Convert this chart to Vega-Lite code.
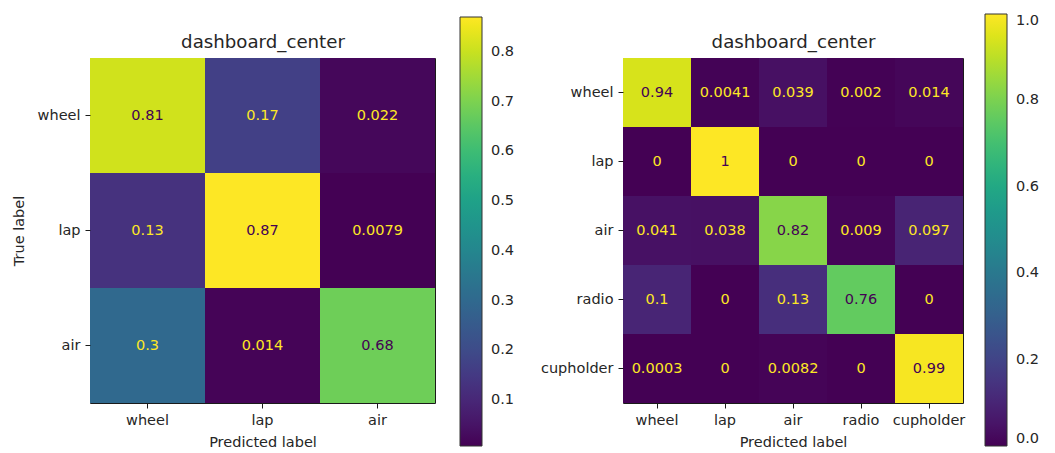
{
  "$schema": "https://vega.github.io/schema/vega-lite/v6.json",
  "background": "white",
  "padding": {"left": 10, "top": 13, "right": 0, "bottom": 0},
  "config": {
    "font": "DejaVu Sans",
    "view": {"stroke": "#1a1a1a", "strokeWidth": 1},
    "axis": {
      "grid": false, "domain": false, "tickColor": "#1a1a1a", "tickSize": 5, "tickWidth": 1,
      "labelFont": "DejaVu Sans", "labelFontSize": 14.5, "labelColor": "#262626", "labelPadding": 5,
      "titleFont": "DejaVu Sans", "titleFontSize": 14.5, "titleFontWeight": "normal", "titleColor": "#262626"
    },
    "legend": {"labelFont": "DejaVu Sans", "labelFontSize": 14.5, "labelColor": "#262626"},
    "concat": {"spacing": 23}
  },
  "resolve": {"scale": {"color": "independent"}, "legend": {"color": "independent"}},
  "hconcat": [
    {
      "width": 345, "height": 345,
      "data": {"values": [
        {"t": "wheel", "p": "wheel", "v": 0.81}, {"t": "wheel", "p": "lap", "v": 0.17}, {"t": "wheel", "p": "air", "v": 0.022},
        {"t": "lap", "p": "wheel", "v": 0.13}, {"t": "lap", "p": "lap", "v": 0.87}, {"t": "lap", "p": "air", "v": 0.0079},
        {"t": "air", "p": "wheel", "v": 0.3}, {"t": "air", "p": "lap", "v": 0.014}, {"t": "air", "p": "air", "v": 0.68}
      ]},
      "resolve": {"axis": {"x": "independent"}},
      "layer": [
        {"mark": {"type": "rect"},
         "encoding": {
          "x": {"field": "p", "type": "nominal", "sort": ["wheel", "lap", "air"], "scale": {"paddingInner": 0, "paddingOuter": 0},
                "axis": {"title": "Predicted label", "labelAngle": 0, "titlePadding": 9}},
          "y": {"field": "t", "type": "nominal", "sort": ["wheel", "lap", "air"], "scale": {"paddingInner": 0, "paddingOuter": 0},
                "axis": {"title": "True label", "titlePadding": 11}},
          "color": {"field": "v", "type": "quantitative",
            "scale": {"scheme": "viridis", "domain": [0.0079, 0.87]},
            "legend": {"orient": "none", "legendX": 370, "legendY": -41, "title": null, "direction": "vertical",
                       "gradientLength": 429, "gradientThickness": 22, "gradientStrokeColor": "#333", "gradientStrokeWidth": 1,
                       "values": [0.1, 0.2, 0.3, 0.4, 0.5, 0.6, 0.7, 0.8], "labelOffset": 9, "format": ".1f", "labelBaseline": "middle"}}}},
        {"mark": {"type": "text", "fontSize": 14.5, "font": "DejaVu Sans"},
         "encoding": {
          "x": {"field": "p", "type": "nominal", "sort": ["wheel", "lap", "air"],
                "axis": {"orient": "top", "labels": false, "ticks": false, "domain": false, "title": "dashboard_center",
                         "titleFontSize": 18.2, "titlePadding": 7}},
          "y": {"field": "t", "type": "nominal", "sort": ["wheel", "lap", "air"]},
          "text": {"field": "v", "type": "quantitative", "format": ".2~g"},
          "color": {"condition": {"test": "datum.v > 0.44", "value": "#440154"}, "value": "#fde725"}}}
      ]
    },
    {
      "width": 340, "height": 345,
      "data": {"values": [
        {"t": "wheel", "p": "wheel", "v": 0.94}, {"t": "wheel", "p": "lap", "v": 0.0041}, {"t": "wheel", "p": "air", "v": 0.039}, {"t": "wheel", "p": "radio", "v": 0.002}, {"t": "wheel", "p": "cupholder", "v": 0.014},
        {"t": "lap", "p": "wheel", "v": 0}, {"t": "lap", "p": "lap", "v": 1}, {"t": "lap", "p": "air", "v": 0}, {"t": "lap", "p": "radio", "v": 0}, {"t": "lap", "p": "cupholder", "v": 0},
        {"t": "air", "p": "wheel", "v": 0.041}, {"t": "air", "p": "lap", "v": 0.038}, {"t": "air", "p": "air", "v": 0.82}, {"t": "air", "p": "radio", "v": 0.009}, {"t": "air", "p": "cupholder", "v": 0.097},
        {"t": "radio", "p": "wheel", "v": 0.1}, {"t": "radio", "p": "lap", "v": 0}, {"t": "radio", "p": "air", "v": 0.13}, {"t": "radio", "p": "radio", "v": 0.76}, {"t": "radio", "p": "cupholder", "v": 0},
        {"t": "cupholder", "p": "wheel", "v": 0.0003}, {"t": "cupholder", "p": "lap", "v": 0}, {"t": "cupholder", "p": "air", "v": 0.0082}, {"t": "cupholder", "p": "radio", "v": 0}, {"t": "cupholder", "p": "cupholder", "v": 0.99}
      ]},
      "resolve": {"axis": {"x": "independent"}},
      "layer": [
        {"mark": {"type": "rect"},
         "encoding": {
          "x": {"field": "p", "type": "nominal", "sort": ["wheel", "lap", "air", "radio", "cupholder"], "scale": {"paddingInner": 0, "paddingOuter": 0},
                "axis": {"title": "Predicted label", "labelAngle": 0, "titlePadding": 9}},
          "y": {"field": "t", "type": "nominal", "sort": ["wheel", "lap", "air", "radio", "cupholder"], "scale": {"paddingInner": 0, "paddingOuter": 0},
                "axis": {"title": null}},
          "color": {"field": "v", "type": "quantitative",
            "scale": {"scheme": "viridis", "domain": [0, 1]},
            "legend": {"orient": "none", "legendX": 362, "legendY": -44, "title": null, "direction": "vertical",
                       "gradientLength": 432, "gradientThickness": 22, "gradientStrokeColor": "#333", "gradientStrokeWidth": 1,
                       "values": [0, 0.2, 0.4, 0.6, 0.8, 1.0], "labelOffset": 9, "format": ".1f", "labelBaseline": "middle"}}}},
        {"mark": {"type": "text", "fontSize": 14.5, "font": "DejaVu Sans"},
         "encoding": {
          "x": {"field": "p", "type": "nominal", "sort": ["wheel", "lap", "air", "radio", "cupholder"],
                "axis": {"orient": "top", "labels": false, "ticks": false, "domain": false, "title": "dashboard_center",
                         "titleFontSize": 18.2, "titlePadding": 7}},
          "y": {"field": "t", "type": "nominal", "sort": ["wheel", "lap", "air", "radio", "cupholder"]},
          "text": {"field": "v", "type": "quantitative", "format": ".2~g"},
          "color": {"condition": {"test": "datum.v > 0.5", "value": "#440154"}, "value": "#fde725"}}}
      ]
    }
  ]
}
